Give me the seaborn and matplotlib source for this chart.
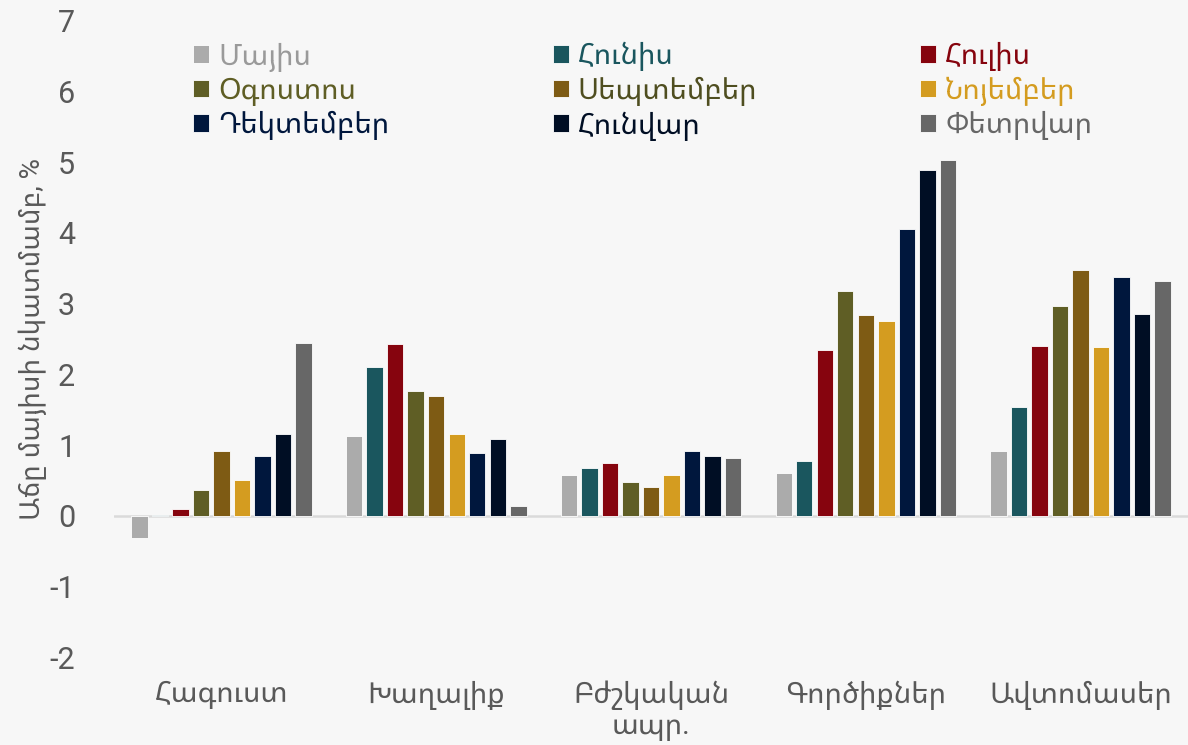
import matplotlib
matplotlib.use('Agg')
import numpy as np
import pandas as pd
import seaborn as sns
import matplotlib.pyplot as plt

sns.set_style('white')
plt.rcParams['font.family'] = ['Roboto', 'Noto Sans Armenian', 'DejaVu Sans']
plt.rcParams['axes.unicode_minus'] = False

# տվյալներ
categories = ['Հագուստ', 'Խաղալիք', 'Բժշկական\nապր.', 'Գործիքներ', 'Ավտոմասեր']
months = ['Մայիս', 'Հունիս', 'Հուլիս', 'Օգոստոս', 'Սեպտեմբեր',
          'Նոյեմբեր', 'Դեկտեմբեր', 'Հունվար', 'Փետրվար']

may = [-0.32, 1.13, 0.58, 0.60, 0.92]
jun = [0.01, 2.10, 0.68, 0.77, 1.54]
jul = [0.10, 2.43, 0.74, 2.34, 2.40]
aug = [0.36, 1.77, 0.47, 3.18, 2.97]
sep = [0.91, 1.69, 0.41, 2.84, 3.47]
nov = [0.51, 1.15, 0.58, 2.75, 2.39]
dec = [0.84, 0.88, 0.91, 4.05, 3.37]
jan = [1.15, 1.09, 0.85, 4.89, 2.86]
feb = [2.45, 0.14, 0.81, 5.03, 3.32]

colors = ['#ABABAB', '#1A565E', '#86040E', '#5F5E25', '#7E5B14',
          '#D49C20', '#00173D', '#000E24', '#676767']
text_colors = ['#9A9A9A', '#1A565E', '#86040E', '#5F5E25', '#4F4E20',
               '#D49C20', '#00173D', '#000E24', '#676767']

series = [may, jun, jul, aug, sep, nov, dec, jan, feb]
rows = []
for m, vals in zip(months, series):
    for c, v in zip(categories, vals):
        rows.append({'cat': c, 'month': m, 'val': v})
df = pd.DataFrame(rows)

bg = '#F7F7F7'
fig = plt.figure(figsize=(11.88, 7.45), dpi=100, facecolor=bg)
ax = fig.add_axes([0.096, 0.118, 0.904, 0.854])
ax.set_facecolor(bg)

sns.barplot(data=df, x='cat', y='val', hue='month', order=categories,
            hue_order=months, palette=colors, saturation=1, width=0.86, gap=0.2,
            edgecolor='#FFFFFF', linewidth=0.6, errorbar=None, ax=ax)

ax.axhline(0, color='#DADADA', lw=1.8, zorder=0.5)
ax.set_xlim(-0.5, 4.5)
ax.set_ylim(-2, 7)
ax.set_yticks(range(-2, 8))
for s in ax.spines.values():
    s.set_visible(False)
ax.tick_params(axis='y', length=0, pad=28, labelsize=22, labelcolor='#595959')
ax.tick_params(axis='x', length=0, pad=17, labelsize=21, labelcolor='#595959')
for t in ax.get_xticklabels():
    t.set_linespacing(1.1)
ax.set_xlabel('')
ax.set_ylabel('Աճը մայիսի նկատմամբ, %', fontsize=20, color='#595959')
ax.yaxis.set_label_coords(-0.062, 0.5)

# լեգենդ՝ տողերով
handles, labels = ax.get_legend_handles_labels()
order = [0, 3, 6, 1, 4, 7, 2, 5, 8]
leg = ax.legend([handles[i] for i in order], [labels[i] for i in order],
                ncol=3, loc='upper left', bbox_to_anchor=(0.063, 0.985),
                frameon=False, fontsize=21, handlelength=0.55, handleheight=0.55,
                handletextpad=0.3, columnspacing=5.6, labelspacing=0.18,
                borderaxespad=0)
for t, i in zip(leg.get_texts(), order):
    t.set_color(text_colors[i])

fig.savefig('out.png', facecolor=bg)
